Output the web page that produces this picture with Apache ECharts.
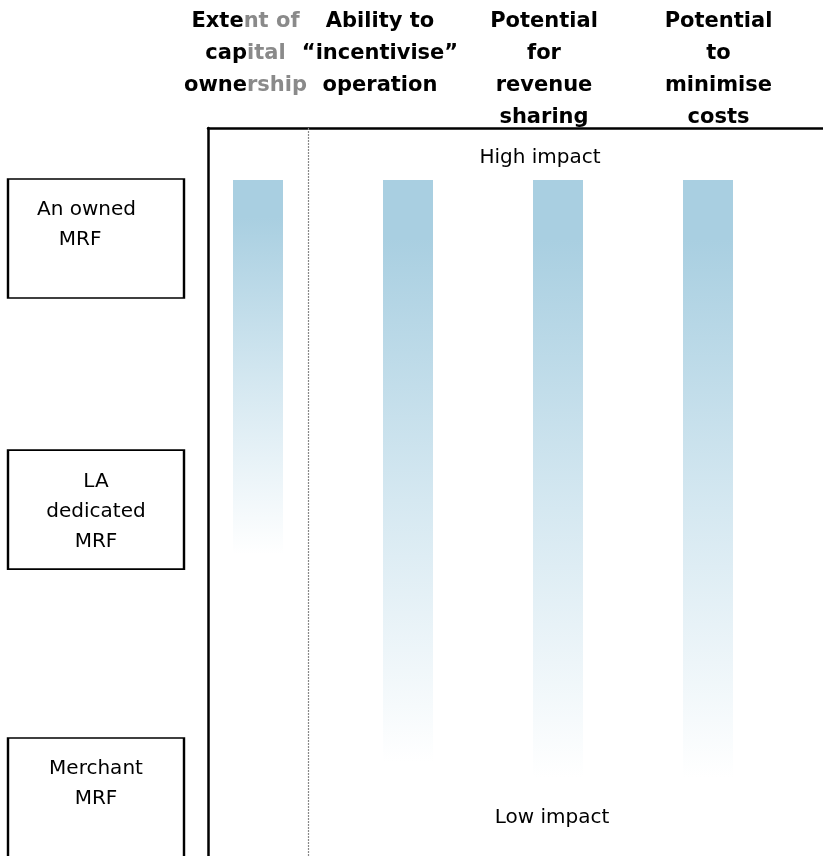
<!DOCTYPE html>
<html>
<head>
<meta charset="utf-8">
<script src="https://cdn.jsdelivr.net/npm/echarts@6/dist/echarts.min.js"></script>
<style>
  html, body { margin: 0; padding: 0; background: #ffffff; }
  #chart { width: 823px; height: 856px; }
</style>
</head>
<body>
<div id="chart"></div>
<script>
// Column headings (first heading has partly greyed words)
const columnHeaders = [
  '{k|Exte}{g|nt of}\n{k|cap}{g|ital}\n{k|owne}{g|rship}',
  'Ability to\n\u201cincentivise\u201d\noperation',
  'Potential\nfor\nrevenue\nsharing',
  'Potential\nto\nminimise\ncosts'
];

// Impact scale: 0 at the top of the frame, 14 at the bottom
const impactStart = [1, 1, 1, 1];
const impactEnd = [8.2, 12.2, 12.5, 12.5];

// Row labels (MRF types) and where they sit on the impact scale
const rowLabels = ['An owned   \nMRF     ', 'LA\ndedicated\nMRF', 'Merchant\nMRF'];
const rowLevels = [2.125, 7.34, 12.875];

const scaleLabels = ['High impact', 'Low impact'];

// Layout
const FONT = '"DejaVu Sans", Verdana, sans-serif';
const headerX = [245.5, 380, 544, 718.5];
const columnX = columnHeaders.map((_, i) => 1 + 3 * i);

const chart = echarts.init(document.getElementById('chart'), null, { renderer: 'canvas' });

const titles = columnHeaders.map((t, i) => ({
  text: t,
  left: headerX[i],
  top: 6,
  padding: 0,
  textAlign: 'center',
  textStyle: {
    fontFamily: FONT,
    fontSize: 21,
    fontWeight: 'bold',
    lineHeight: 32,
    color: '#000000',
    rich: {
      k: { fontFamily: FONT, fontSize: 21, fontWeight: 'bold', lineHeight: 32, color: '#000000' },
      g: { fontFamily: FONT, fontSize: 21, fontWeight: 'bold', lineHeight: 32, color: '#8a8a8a' }
    }
  }
}));
titles.push(
  { text: scaleLabels[0], left: 540, top: 143, padding: 0, textAlign: 'center',
    textStyle: { fontFamily: FONT, fontSize: 20, fontWeight: 'normal', lineHeight: 30, color: '#000000' } },
  { text: scaleLabels[1], left: 552, top: 803, padding: 0, textAlign: 'center',
    textStyle: { fontFamily: FONT, fontSize: 20, fontWeight: 'normal', lineHeight: 30, color: '#000000' } }
);

const option = {
  animation: false,
  backgroundColor: '#ffffff',
  title: titles,
  grid: [
    { left: 208, right: 0, top: 128, bottom: 0 },
    { left: 8, width: 176, top: 128, bottom: 0 }
  ],
  xAxis: [
    {
      gridIndex: 0, type: 'value', min: 0, max: 12.3, position: 'top',
      axisLine: { show: true, onZero: false, lineStyle: { color: '#000000', width: 2.5 } },
      axisTick: { show: false }, axisLabel: { show: false }, splitLine: { show: false }
    },
    { gridIndex: 1, type: 'value', min: 0, max: 1, show: false }
  ],
  yAxis: [
    {
      gridIndex: 0, type: 'value', min: 0, max: 14, inverse: true,
      axisLine: { show: true, onZero: false, lineStyle: { color: '#000000', width: 2.5 } },
      axisTick: { show: false }, axisLabel: { show: false }, splitLine: { show: false }
    },
    { gridIndex: 1, type: 'value', min: 0, max: 14, inverse: true, show: false }
  ],
  series: [
    {
      type: 'custom',
      name: 'impact',
      xAxisIndex: 0,
      yAxisIndex: 0,
      silent: true,
      data: columnX.map((x, i) => [x, impactStart[i], impactEnd[i]]),
      renderItem: function (params, api) {
        const x = api.value(0);
        const top = api.coord([x, api.value(1)]);
        const bottom = api.coord([x, api.value(2)]);
        const w = api.size([1, 0])[0];
        return {
          type: 'rect',
          shape: { x: top[0] - w / 2, y: top[1], width: w, height: bottom[1] - top[1] },
          style: {
            fill: new echarts.graphic.LinearGradient(0, 0, 0, 1, [
              { offset: 0, color: '#a9cfe1' },
              { offset: 0.1, color: '#a9cfe1' },
              { offset: 0.55, color: '#d5e8f1' },
              { offset: 1, color: '#ffffff' }
            ])
          }
        };
      },
      markLine: {
        silent: true,
        symbol: ['none', 'none'],
        label: { show: false },
        lineStyle: { type: [2, 1], color: '#888888', width: 1.2 },
        data: [{ xAxis: 2 }]
      }
    },
    {
      type: 'scatter',
      name: 'rows',
      xAxisIndex: 1,
      yAxisIndex: 1,
      silent: true,
      symbol: 'rect',
      symbolSize: [176, 119],
      itemStyle: { color: '#ffffff', borderColor: '#000000', borderWidth: 2, opacity: 1 },
      emphasis: { disabled: true },
      data: rowLevels.map(y => [0.5, y]),
      label: {
        show: true,
        position: 'insideTop',
        distance: 17,
        formatter: p => rowLabels[p.dataIndex],
        fontFamily: FONT,
        fontSize: 20,
        lineHeight: 30,
        color: '#000000'
      }
    }
  ]
};

chart.setOption(option);
</script>
</body>
</html>
